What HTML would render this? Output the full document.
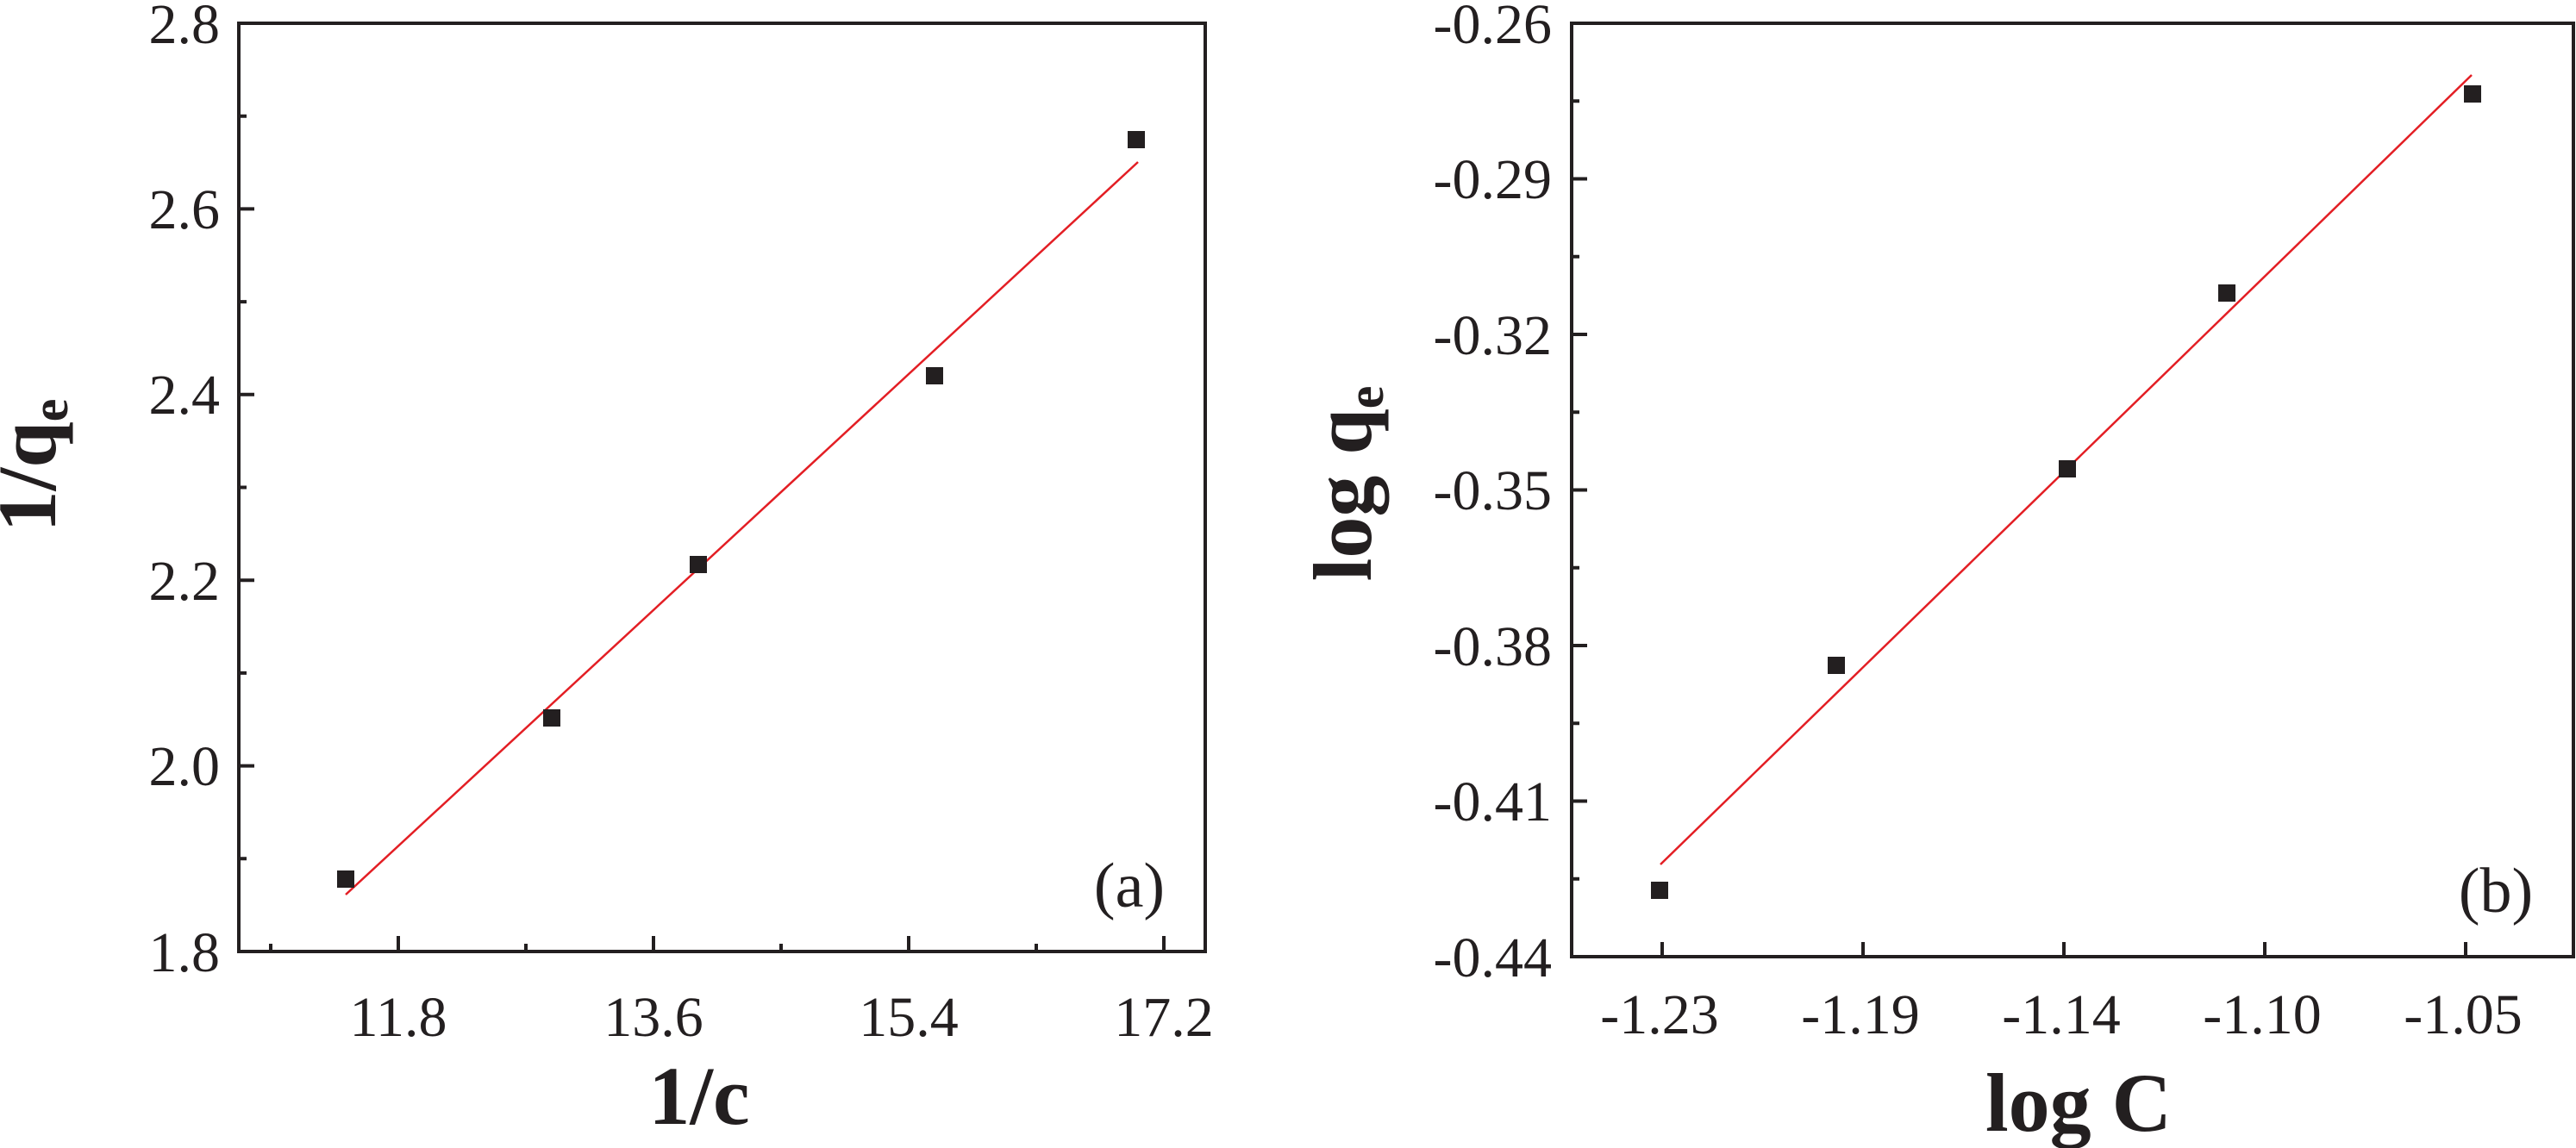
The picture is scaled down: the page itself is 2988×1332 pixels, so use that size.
<!DOCTYPE html>
<html><head><meta charset="utf-8"><style>
html,body{margin:0;padding:0;background:#fff;}
svg{display:block;}
</style></head><body>
<svg width="2988" height="1332" viewBox="0 0 2988 1332" xmlns="http://www.w3.org/2000/svg" font-family="'Liberation Serif', 'Times New Roman', serif">
<g stroke="#231f20" stroke-width="4" fill="none">
<rect x="277" y="27" width="1121" height="1077"/>
<path d="M277 27h18M277 242.4h18M277 457.8h18M277 673.2h18M277 888.6h18M277 1104h18"/>
<path d="M277 134.7h9M277 350.1h9M277 565.5h9M277 780.9h9M277 996.3h9"/>
<path d="M462 1104v-18M758 1104v-18M1054 1104v-18M1350 1104v-18"/>
<path d="M314 1104v-9M610 1104v-9M906 1104v-9M1202 1104v-9"/>
<rect x="1823" y="27" width="1162" height="1083"/>
<path d="M1823 27h18M1823 207.5h18M1823 388h18M1823 568.5h18M1823 749h18M1823 929.5h18M1823 1110h18"/>
<path d="M1823 117.2h9M1823 297.7h9M1823 478.2h9M1823 658.7h9M1823 839.2h9M1823 1019.7h9"/>
<path d="M1928 1110v-17M2161 1110v-17M2394 1110v-17M2627 1110v-17M2860 1110v-17"/>
</g>
<g stroke="#e31e24" stroke-width="2.5">
<line x1="401" y1="1038" x2="1320" y2="188"/>
<line x1="1926" y1="1003" x2="2867" y2="87"/>
</g>
<g fill="#231f20">
<rect x="391" y="1010" width="20" height="20"/>
<rect x="630" y="823" width="20" height="20"/>
<rect x="800" y="645" width="20" height="20"/>
<rect x="1074" y="426" width="20" height="20"/>
<rect x="1308" y="152" width="20" height="20"/>
<rect x="1915" y="1023" width="20" height="20"/>
<rect x="2120" y="762" width="20" height="20"/>
<rect x="2388" y="534" width="20" height="20"/>
<rect x="2573" y="330" width="20" height="20"/>
<rect x="2858" y="99" width="20" height="20"/>
</g>
<g font-size="66" text-anchor="end" fill="#231f20">
<text x="255" y="50">2.8</text>
<text x="255" y="265">2.6</text>
<text x="255" y="480">2.4</text>
<text x="255" y="696">2.2</text>
<text x="255" y="911">2.0</text>
<text x="255" y="1127">1.8</text>
<text x="1800" y="50">-0.26</text>
<text x="1800" y="230">-0.29</text>
<text x="1800" y="411">-0.32</text>
<text x="1800" y="591">-0.35</text>
<text x="1800" y="772">-0.38</text>
<text x="1800" y="952">-0.41</text>
<text x="1800" y="1133">-0.44</text>
</g>
<g font-size="66" text-anchor="middle" fill="#231f20">
<text x="462" y="1202">11.8</text>
<text x="758" y="1202">13.6</text>
<text x="1054" y="1202">15.4</text>
<text x="1350" y="1202">17.2</text>
<text x="1925" y="1199">-1.23</text>
<text x="2158" y="1199">-1.19</text>
<text x="2391" y="1199">-1.14</text>
<text x="2624" y="1199">-1.10</text>
<text x="2857" y="1199">-1.05</text>
</g>
<text x="1310" y="1052" font-size="74" text-anchor="middle" fill="#231f20">(a)</text>
<text x="2895" y="1058" font-size="74" text-anchor="middle" fill="#231f20">(b)</text>
<g font-weight="bold" font-size="96" fill="#231f20">
<text x="811" y="1304" text-anchor="middle">1/c</text>
<text x="2411" y="1312" text-anchor="middle">log C</text>
<text transform="translate(64,540) rotate(-90)" text-anchor="middle">1/q<tspan font-size="60" dy="14">e</tspan></text>
<text transform="translate(1590,561) rotate(-90)" text-anchor="middle">log q<tspan font-size="60" dy="14">e</tspan></text>
</g>
</svg>
</body></html>
